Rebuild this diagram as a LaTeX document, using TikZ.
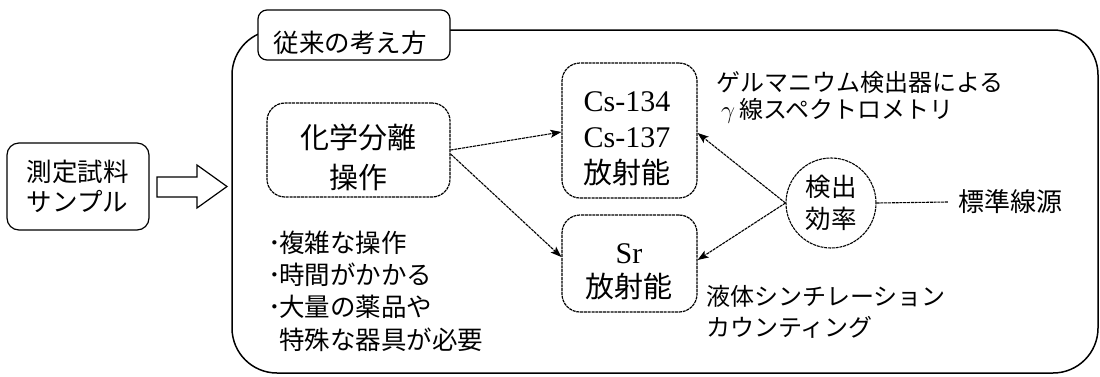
\documentclass[tikz,border=0pt]{standalone}
\usepackage{fontspec}
\setmainfont{Liberation Serif}
\newfontfamily\jp{Noto Sans CJK JP}
\usetikzlibrary{arrows.meta,calc}
\begin{document}
\begin{tikzpicture}[x=1pt,y=-1pt,
  bigframe/.style={draw, line width=1.5pt, rounded corners=45pt},
  solidbox/.style={draw, line width=1.2pt, rounded corners=9pt, inner sep=0pt, align=center, fill=white},
  dashbox/.style={draw, line width=1.2pt, dash pattern=on 3pt off 0.8pt, rounded corners=18pt, inner sep=0pt},
  txt/.style={inner sep=0pt, align=center},
  conn/.style={line width=1.1pt, dash pattern=on 3pt off 0.8pt, -{Stealth[length=11pt,width=8pt,inset=2.5pt]}},
  jpA/.style={font=\jp\fontsize{25.5}{30}\selectfont},
  jpB/.style={font=\jp\fontsize{29}{40}\selectfont},
  jpC/.style={font=\jp\fontsize{24}{28}\selectfont},
]
\useasboundingbox (0,0) rectangle (1100,376);

% sample
\node[solidbox, jpA, minimum width=142pt, minimum height=87pt, align=left, rounded corners=12pt] (sample) at (78,186.5) {測定試料\\サンプル};

% hollow arrow
\draw[line width=1.2pt, line join=miter] (157,177) -- (197,177) -- (197,165) -- (227,186.5) -- (197,208) -- (197,197) -- (157,197) -- cycle;

% frame
\draw[bigframe] (232,30) rectangle (1098,373);
\node[solidbox, minimum width=192pt, minimum height=50pt] (lab) at (354,35) {};
\node[txt, jpA] (labt) at (350,42.5) {従来の考え方};

% chemical separation
\node[dashbox, minimum width=183pt, minimum height=94pt] (chem) at (358.5,150) {};
\node[txt, jpB] (chemt) at (358.5,157.5) {化学分離\\操作};

% bullets
\node[txt, jpA, anchor=west] (b1) at (279,243) {\llap{･\kern-2pt}複雑な操作};
\node[txt, jpA, anchor=west] (b2) at (279,275) {\llap{･\kern-2pt}時間がかかる};
\node[txt, jpA, anchor=west] (b3) at (279,307) {\llap{･\kern-2pt}大量の薬品や};
\node[txt, jpA, anchor=west] (b4) at (279,340) {特殊な器具が必要};

% Cs box
\node[dashbox, minimum width=135pt, minimum height=135pt] (cs) at (629.5,130.5) {};
\node[txt, font=\fontsize{30}{36}\selectfont] (cst) at (627,139) {Cs-134\\Cs-137\\{\jp\fontsize{29}{36}\selectfont 放射能}};

% Sr box
\node[dashbox, minimum width=135pt, minimum height=97pt] (sr) at (629.5,263.5) {};
\node[txt, font=\fontsize{30}{34}\selectfont] (srt) at (629,272) {Sr\\{\jp\fontsize{29}{34}\selectfont 放射能}};

% efficiency circle
\node[circle, draw, line width=1.1pt, dash pattern=on 3pt off 0.8pt, minimum size=90pt, inner sep=0pt, align=center, font=\jp\fontsize{25.5}{32}\selectfont] (eff) at (831,203) {検出\\効率};

% standard source
\node[txt, font=\jp\fontsize{26}{30}\selectfont, anchor=west] (std) at (958,202) {標準線源};

% annotations
\node[txt, jpC, anchor=west] (ge1) at (716,82) {ゲルマニウム検出器による};
\node[txt, jpC, anchor=west] (ge2) at (721,111) {$\gamma$\,線スペクトロメトリ};
\node[txt, jpC, anchor=west] (lq1) at (706,296) {液体シンチレーション};
\node[txt, jpC, anchor=west] (lq2) at (706,327) {カウンティング};

% connectors
\draw[conn] (chem.east) -- ([yshift=-1.5pt]cs.west);
\draw[conn] ([yshift=-4pt]chem.east) -- ([yshift=6.5pt]sr.west);
\draw[conn] (eff.west) -- ([yshift=-2.5pt]cs.east);
\draw[conn] (eff.west) -- ([yshift=3.5pt]sr.east);
\draw[line width=1.1pt, dash pattern=on 3pt off 0.8pt] (eff.east) -- ([xshift=-10pt]std.west);
\end{tikzpicture}
\end{document}
